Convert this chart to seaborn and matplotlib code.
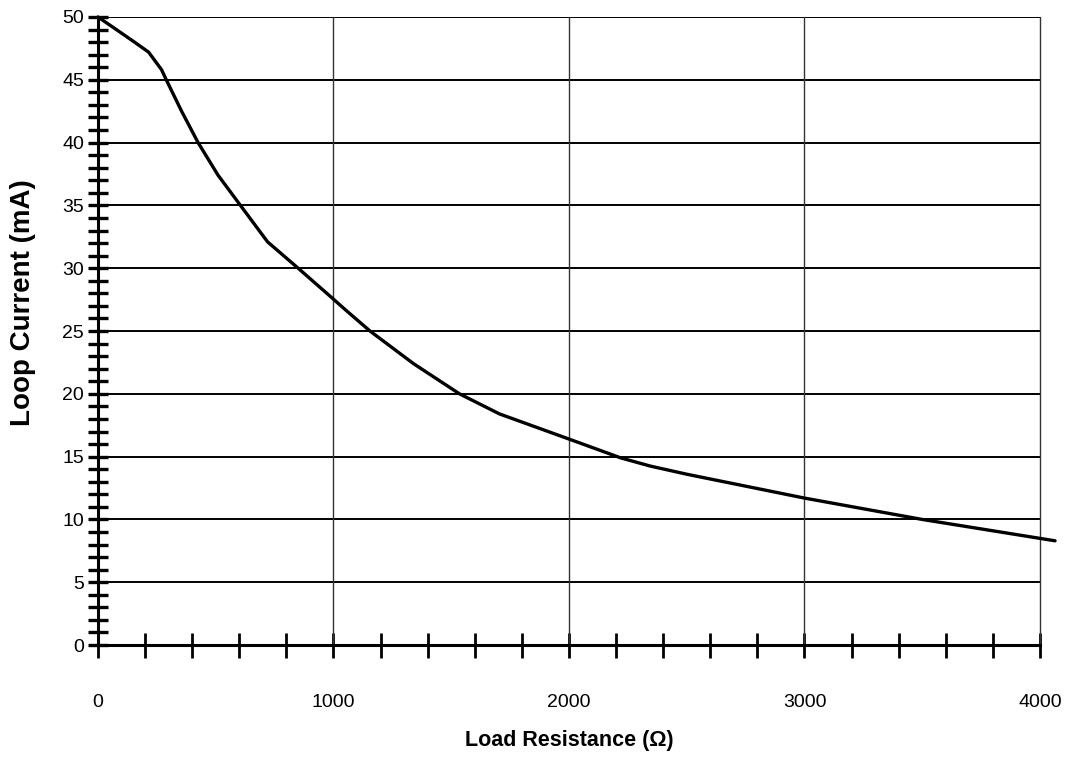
import numpy as np
import pandas as pd
import matplotlib
matplotlib.use('Agg')
import matplotlib.pyplot as plt
import seaborn as sns

# values
resistance = [0, 70, 155, 215, 270, 290, 355, 425, 510, 605, 720, 850,
              990, 1050, 1155, 1340, 1535, 1705, 2000, 2220, 2345, 2500,
              3000, 3500, 4064]
current = [50, 49.1, 48.0, 47.2, 45.8, 45.0, 42.5, 40.0, 37.4, 35.0, 32.1, 30.0,
           27.7, 26.7, 25.0, 22.4, 20.0, 18.4, 16.4, 14.9, 14.25, 13.6,
           11.7, 10.0, 8.3]

df = pd.DataFrame({'Load Resistance': resistance, 'Loop Current': current})

sns.set_style("white")
plt.rcParams['font.family'] = ['Liberation Sans', 'DejaVu Sans']
plt.rcParams['text.color'] = 'black'
plt.rcParams['xtick.color'] = 'black'
plt.rcParams['ytick.color'] = 'black'
plt.rcParams['axes.labelcolor'] = 'black'

fig = plt.figure(figsize=(10.65, 7.58), dpi=100)
ax = fig.add_axes([0.092, 0.149, 0.8845, 0.8286])

sns.lineplot(data=df, x='Load Resistance', y='Loop Current', ax=ax,
             color='black', linewidth=2.4, clip_on=False, zorder=5)

ax.set_xlim(0, 4000)
ax.set_ylim(0, 50)
ax.set_xticks([0, 1000, 2000, 3000, 4000])
ax.set_xticks(np.arange(0, 4001, 200), minor=True)
ax.set_yticks(np.arange(0, 51, 5))
ax.set_yticks(np.arange(0, 51, 1), minor=True)

ax.grid(False)
for yv in np.arange(5, 51, 5):
    ax.axhline(yv, color='black', linewidth=1.4, zorder=1)
for xv in [1000, 2000, 3000, 4000]:
    ax.axvline(xv, color='#333333', linewidth=1.0, zorder=1, clip_on=False)

for side in ['top', 'right']:
    ax.spines[side].set_visible(False)
for side in ['left', 'bottom']:
    ax.spines[side].set_linewidth(2.2)
    ax.spines[side].set_color('black')

ax.tick_params(axis='x', which='both', bottom=True, direction='inout', length=18,
               width=2, color='black', labelsize=14, pad=26)
ax.tick_params(axis='y', which='both', left=True, direction='inout', length=14,
               width=2.4, color='black', labelsize=14, pad=3)

ax.set_xlabel('Load Resistance (Ω)', fontsize=15.5, fontweight='bold', labelpad=14)
ax.set_ylabel('Loop Current (mA)', fontsize=20, fontweight='bold')
ax.yaxis.set_label_coords(-0.066, 0.545)

fig.savefig('out.png', dpi=100)
